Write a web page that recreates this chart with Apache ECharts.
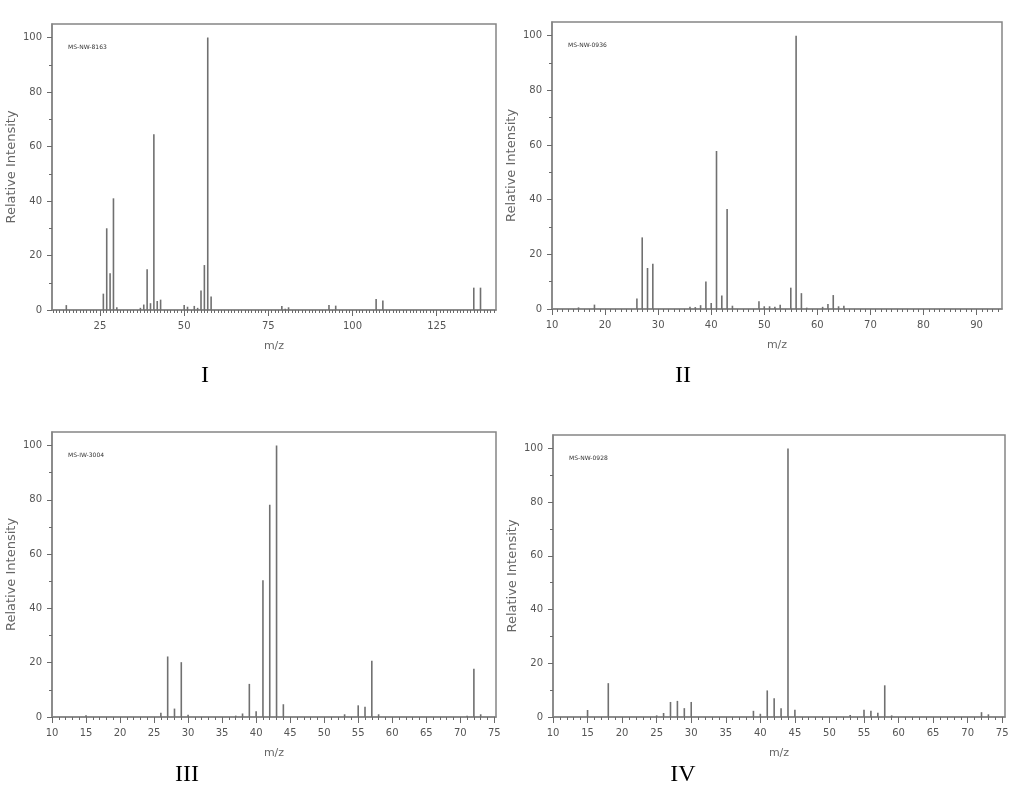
<!DOCTYPE html>
<html>
<head>
<meta charset="utf-8">
<script src="https://cdn.jsdelivr.net/npm/echarts@6/dist/echarts.min.js"></script>
<style>
  html, body { margin: 0; padding: 0; background: #fff; }
  #main { width: 1024px; height: 797px; }
</style>
</head>
<body>
<div id="main"></div>
<script>
// ===== 谱图数据（m/z 与相对强度） =====
// I
const mzI  = [15, 26, 27, 28, 29, 30, 37, 38, 39, 40, 41, 42, 43, 50, 51, 53, 54, 55, 56, 57, 58, 79, 80, 81, 93, 95, 107, 109, 136, 138];
const intI = [1.8, 6, 30, 13.5, 41, 1, 0.8, 2, 15, 2.5, 64.5, 3.3, 3.8, 1.8, 1.2, 1.5, 0.8, 7.2, 16.5, 100, 5, 1.5, 0.5, 1, 1.8, 1.6, 4, 3.5, 8.2, 8.2];
// II
const mzII  = [15, 18, 26, 27, 28, 29, 36, 37, 38, 39, 40, 41, 42, 43, 44, 49, 50, 51, 52, 53, 55, 56, 57, 58, 61, 62, 63, 64, 65];
const intII = [0.6, 1.6, 3.8, 26.2, 15, 16.6, 0.8, 0.7, 1.4, 10.1, 2.2, 57.8, 4.9, 36.6, 1.2, 2.8, 1, 1, 0.8, 1.6, 7.8, 100, 5.8, 0.5, 0.8, 1.8, 5.1, 1, 1.2];
// III
const mzIII  = [15, 26, 27, 28, 29, 30, 37, 38, 39, 40, 41, 42, 43, 44, 53, 55, 56, 57, 58, 71, 72, 73];
const intIII = [0.6, 1.6, 22.3, 3.1, 20.2, 0.8, 0.5, 1.3, 12.2, 2.1, 50.4, 78.2, 100, 4.7, 1, 4.3, 3.8, 20.7, 1, 0.5, 17.8, 1];
// IV
const mzIV  = [15, 18, 25, 26, 27, 28, 29, 30, 39, 40, 41, 42, 43, 44, 45, 53, 55, 56, 57, 58, 59, 72, 73];
const intIV = [2.6, 12.6, 0.6, 1.5, 5.6, 6, 3.3, 5.6, 2.3, 1.2, 9.9, 7, 3.3, 100, 2.7, 0.7, 2.7, 2.3, 1.6, 11.8, 0.6, 1.8, 1];

// 坐标轴刻度标签
const xLabelsI  = [25, 50, 75, 100, 125];
const xLabelsII = [10, 20, 30, 40, 50, 60, 70, 80, 90];
const xLabels5  = [10, 15, 20, 25, 30, 35, 40, 45, 50, 55, 60, 65, 70, 75];
const yLabels   = [0, 20, 40, 60, 80, 100];
const yMinor    = [10, 30, 50, 70, 90];

const tags   = ['MS-NW-8163', 'MS-NW-0936', 'MS-IW-3004', 'MS-NW-0928'];
const titles = ['I', 'II', 'III', 'IV'];

const panels = [
  { mz: mzI,   val: intI,   xLabels: xLabelsI,  xMin: 10.75, xMax: 142.6, grid: { left: 52,  top: 24,  width: 444, height: 286 }, title: [205, 376] },
  { mz: mzII,  val: intII,  xLabels: xLabelsII, xMin: 10,    xMax: 94.8,  grid: { left: 552, top: 22,  width: 450, height: 287 }, title: [683, 376] },
  { mz: mzIII, val: intIII, xLabels: xLabels5,  xMin: 10,    xMax: 75.25, grid: { left: 52,  top: 432, width: 444, height: 285 }, title: [187, 775] },
  { mz: mzIV,  val: intIV,  xLabels: xLabels5,  xMin: 10,    xMax: 75.4,  grid: { left: 553, top: 435, width: 452, height: 282 }, title: [683, 775] },
];

const AXIS = '#858585';
const TICK = '#6a6a6a';
const TXT = '#555';
const FONT = 'DejaVu Sans';

function intRange(a, b) {
  const out = [];
  for (let v = Math.ceil(a); v <= Math.floor(b); v++) out.push(v);
  return out;
}

const grids = [], xAxes = [], yAxes = [], series = [], graphics = [];

panels.forEach((p, i) => {
  grids.push(Object.assign({ show: true, borderColor: AXIS, borderWidth: 1.5, backgroundColor: '#fff' }, p.grid));

  // 主 x 轴：标签 + 长刻度
  xAxes.push({
    gridIndex: i, type: 'value', min: p.xMin, max: p.xMax,
    name: 'm/z', nameLocation: 'middle', nameGap: 31,
    nameTextStyle: { color: '#666', fontSize: 11, fontFamily: FONT },
    axisLine: { show: true, lineStyle: { color: AXIS, width: 1.5 } },
    axisTick: { show: true, length: 6, customValues: p.xLabels, lineStyle: { color: TICK } },
    axisLabel: { customValues: p.xLabels, color: TXT, fontSize: 10, fontFamily: FONT, margin: 11 },
    splitLine: { show: false },
  });
  // 次 x 轴：每 1 个单位的短刻度
  xAxes.push({
    gridIndex: i, type: 'value', min: p.xMin, max: p.xMax, position: 'bottom',
    axisLine: { show: false },
    axisTick: { show: true, length: 3, customValues: intRange(p.xMin, p.xMax), lineStyle: { color: TICK } },
    axisLabel: { show: false },
    splitLine: { show: false },
  });

  yAxes.push({
    gridIndex: i, type: 'value', min: 0, max: 105,
    name: 'Relative Intensity', nameLocation: 'middle', nameGap: 34,
    nameTextStyle: { color: '#666', fontSize: 13, fontFamily: FONT },
    axisLine: { show: true, lineStyle: { color: AXIS, width: 1.5 } },
    axisTick: { show: true, length: 5, customValues: yLabels, lineStyle: { color: TICK } },
    axisLabel: { customValues: yLabels, color: TXT, fontSize: 10, fontFamily: FONT, margin: 10 },
    splitLine: { show: false },
  });
  yAxes.push({
    gridIndex: i, type: 'value', min: 0, max: 105, position: 'left',
    axisLine: { show: false },
    axisTick: { show: true, length: 3, customValues: yMinor, lineStyle: { color: TICK } },
    axisLabel: { show: false },
    splitLine: { show: false },
  });

  series.push({
    type: 'bar',
    xAxisIndex: i * 2, yAxisIndex: i * 2,
    barWidth: 1.6,
    itemStyle: { color: '#707070' },
    silent: true,
    data: p.mz.map((m, k) => [m, p.val[k]]),
  });

  graphics.push({
    type: 'text', left: p.grid.left + 16, top: p.grid.top + 20,
    style: { text: tags[i], fontSize: 6, fontFamily: FONT, fill: '#333' },
  });
  graphics.push({
    type: 'text', x: p.title[0], y: p.title[1],
    style: { text: titles[i], fontSize: 24, fontFamily: 'Liberation Serif', fill: '#000', align: 'center', verticalAlign: 'middle' },
  });
});

const chart = echarts.init(document.getElementById('main'));
chart.setOption({
  animation: false,
  backgroundColor: '#fff',
  grid: grids,
  xAxis: xAxes,
  yAxis: yAxes,
  series: series,
  graphic: graphics,
});
</script>
</body>
</html>
